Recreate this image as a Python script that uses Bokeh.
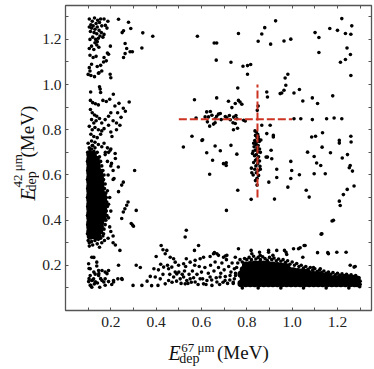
import math
from bokeh.plotting import figure
from bokeh.models import Range1d, FixedTicker, LinearAxis, Label, PrintfTickFormatter
from bokeh.layouts import row, column
from bokeh.embed import file_html
from bokeh.resources import INLINE

# ---------------- data ----------------
# dense core of the left cluster (E67 ~ 0.1-0.17, E42 ~ 0.3-0.7)
left_core = [
    (0.108, 0.69), (0.122, 0.688),
    (0.108, 0.67), (0.122, 0.672), (0.135, 0.668),
    (0.108, 0.65), (0.124, 0.652), (0.138, 0.648),
    (0.108, 0.63), (0.123, 0.628), (0.139, 0.632),
    (0.108, 0.61), (0.124, 0.612), (0.139, 0.608), (0.150, 0.612),
    (0.108, 0.59), (0.123, 0.592), (0.139, 0.588), (0.153, 0.590),
    (0.108, 0.57), (0.124, 0.568), (0.140, 0.572), (0.155, 0.570),
    (0.108, 0.55), (0.123, 0.552), (0.139, 0.548), (0.155, 0.550),
    (0.108, 0.53), (0.124, 0.528), (0.140, 0.532), (0.156, 0.530),
    (0.108, 0.51), (0.123, 0.512), (0.139, 0.508), (0.155, 0.510), (0.166, 0.512),
    (0.108, 0.49), (0.124, 0.488), (0.140, 0.492), (0.155, 0.490), (0.167, 0.488),
    (0.108, 0.47), (0.123, 0.472), (0.139, 0.468), (0.156, 0.470), (0.168, 0.472),
    (0.108, 0.45), (0.124, 0.448), (0.140, 0.452), (0.155, 0.450), (0.167, 0.448),
    (0.108, 0.43), (0.123, 0.432), (0.139, 0.428), (0.156, 0.430), (0.166, 0.432),
    (0.108, 0.41), (0.124, 0.408), (0.140, 0.412), (0.155, 0.410), (0.165, 0.408),
    (0.108, 0.39), (0.123, 0.392), (0.139, 0.388), (0.154, 0.390),
    (0.108, 0.37), (0.124, 0.368), (0.140, 0.372), (0.153, 0.370),
    (0.108, 0.35), (0.123, 0.352), (0.139, 0.348), (0.150, 0.352),
    (0.110, 0.33), (0.126, 0.332), (0.142, 0.328),
]

# dense core of the bottom-right cluster (E67 ~ 0.76-1.30, E42 ~ 0.1-0.22)
bottom_core = [
    (0.775, 0.12), (0.795, 0.12), (0.815, 0.12), (0.835, 0.12), (0.855, 0.12), (0.875, 0.12),
    (0.895, 0.12), (0.915, 0.12), (0.935, 0.12), (0.955, 0.12), (0.975, 0.12), (0.995, 0.12),
    (1.015, 0.12), (1.035, 0.12), (1.055, 0.12), (1.075, 0.12), (1.095, 0.12), (1.115, 0.12),
    (1.135, 0.12), (1.155, 0.12), (1.175, 0.12), (1.195, 0.12), (1.215, 0.12), (1.235, 0.12),
    (1.255, 0.12), (1.275, 0.12), (1.288, 0.12),
    (0.785, 0.14), (0.805, 0.14), (0.825, 0.14), (0.845, 0.14), (0.865, 0.14), (0.885, 0.14),
    (0.905, 0.14), (0.925, 0.14), (0.945, 0.14), (0.965, 0.14), (0.985, 0.14), (1.005, 0.14),
    (1.025, 0.14), (1.045, 0.14), (1.065, 0.14), (1.085, 0.14), (1.105, 0.14), (1.125, 0.14),
    (1.145, 0.14), (1.165, 0.14), (1.185, 0.14), (1.205, 0.14), (1.225, 0.14), (1.245, 0.14),
    (1.265, 0.14), (1.285, 0.138),
    (0.775, 0.16), (0.795, 0.16), (0.815, 0.16), (0.835, 0.16), (0.855, 0.16), (0.875, 0.16),
    (0.895, 0.16), (0.915, 0.16), (0.935, 0.16), (0.955, 0.16), (0.975, 0.16), (0.995, 0.16),
    (1.015, 0.16), (1.035, 0.16), (1.055, 0.16), (1.075, 0.16), (1.095, 0.158), (1.115, 0.155),
    (1.135, 0.152), (1.155, 0.150),
    (0.785, 0.18), (0.805, 0.18), (0.825, 0.18), (0.845, 0.18), (0.865, 0.18), (0.885, 0.18),
    (0.905, 0.18), (0.925, 0.18), (0.945, 0.18), (0.965, 0.18), (0.985, 0.178), (1.005, 0.175),
    (1.025, 0.172), (1.045, 0.170), (1.065, 0.168),
    (0.795, 0.200), (0.815, 0.203), (0.835, 0.205), (0.855, 0.205), (0.875, 0.205), (0.895, 0.203),
    (0.915, 0.200), (0.935, 0.198), (0.955, 0.195), (0.975, 0.192),
]

# sparse events, upper part of the left column
upper_left = [
    (0.105, 1.29), (0.118, 1.28), (0.128, 1.295), (0.142, 1.285), (0.155, 1.29), (0.170, 1.29),
    (0.187, 1.28), (0.112, 1.265), (0.135, 1.27), (0.150, 1.275), (0.105, 1.255), (0.115, 1.25),
    (0.122, 1.26), (0.130, 1.245), (0.140, 1.255), (0.160, 1.26), (0.176, 1.262), (0.183, 1.25),
    (0.110, 1.235), (0.126, 1.23), (0.138, 1.225), (0.148, 1.24), (0.158, 1.23), (0.170, 1.222),
    (0.108, 1.20), (0.120, 1.21), (0.133, 1.20), (0.140, 1.19), (0.145, 1.205), (0.152, 1.215),
    (0.165, 1.21), (0.130, 1.185), (0.138, 1.175), (0.115, 1.17), (0.105, 1.16), (0.125, 1.155),
    (0.147, 1.165), (0.185, 1.14), (0.198, 1.17), (0.108, 1.13), (0.122, 1.12), (0.135, 1.125),
    (0.170, 1.12), (0.180, 1.105), (0.115, 1.09), (0.140, 1.08), (0.155, 1.085), (0.108, 1.06),
    (0.100, 1.045), (0.112, 1.04), (0.128, 1.035), (0.145, 1.05), (0.160, 1.06), (0.200, 1.03),
    (0.105, 1.075), (0.234, 1.289), (0.278, 1.276), (0.288, 1.248), (0.256, 1.238), (0.250, 1.23),
    (0.341, 1.229), (0.385, 1.214), (0.337, 1.162), (0.295, 1.145), (0.263, 1.182), (0.270, 1.16),
    (0.263, 1.137), (0.256, 1.12), (0.285, 1.145), (0.190, 1.134), (0.168, 1.10), (0.197, 1.046),
    (0.148, 1.052),
    (0.111, 0.967), (0.150, 0.99), (0.153, 0.98), (0.155, 0.965), (0.211, 0.957), (0.281, 0.923),
    (0.110, 0.93), (0.120, 0.92), (0.132, 0.915), (0.145, 0.91), (0.165, 0.93), (0.180, 0.925),
    (0.195, 0.935), (0.218, 0.905), (0.236, 0.917), (0.255, 0.895), (0.264, 0.882), (0.110, 0.89),
    (0.118, 0.875), (0.128, 0.865), (0.138, 0.86), (0.150, 0.85), (0.115, 0.845), (0.125, 0.83),
    (0.135, 0.84), (0.160, 0.83), (0.175, 0.845), (0.190, 0.86), (0.200, 0.875), (0.210, 0.84),
    (0.225, 0.83), (0.230, 0.875), (0.245, 0.855), (0.105, 0.815), (0.118, 0.80), (0.130, 0.81),
    (0.145, 0.80), (0.160, 0.795), (0.170, 0.805), (0.190, 0.82), (0.200, 0.79), (0.112, 0.78),
    (0.125, 0.77), (0.140, 0.765), (0.155, 0.78), (0.205, 0.77), (0.225, 0.80), (0.240, 0.82),
    (0.115, 0.75), (0.130, 0.745), (0.120, 0.73), (0.145, 0.735), (0.160, 0.725), (0.170, 0.74),
    (0.185, 0.72), (0.200, 0.715),
]

# edge of the left cluster and its tail towards larger E67
left_edge = [
    (0.098, 0.70), (0.097, 0.66), (0.098, 0.62), (0.097, 0.58), (0.098, 0.54), (0.097, 0.50),
    (0.098, 0.46), (0.097, 0.42), (0.098, 0.38), (0.097, 0.34), (0.100, 0.31), (0.105, 0.30),
    (0.115, 0.305), (0.130, 0.31), (0.145, 0.315), (0.155, 0.32), (0.120, 0.29), (0.105, 0.285),
    (0.140, 0.295), (0.165, 0.33), (0.105, 0.72), (0.115, 0.715), (0.125, 0.705), (0.118, 0.73),
    (0.130, 0.72), (0.140, 0.70), (0.100, 0.74), (0.108, 0.71), (0.150, 0.68), (0.155, 0.66),
    (0.160, 0.64), (0.165, 0.62), (0.170, 0.60), (0.168, 0.58), (0.175, 0.56), (0.172, 0.54),
    (0.178, 0.52), (0.180, 0.50), (0.182, 0.48), (0.185, 0.46), (0.180, 0.44), (0.183, 0.42),
    (0.178, 0.40), (0.175, 0.38), (0.170, 0.36), (0.168, 0.34), (0.185, 0.53), (0.190, 0.47),
    (0.190, 0.41), (0.195, 0.50), (0.200, 0.44), (0.195, 0.37), (0.188, 0.60), (0.200, 0.64),
    (0.210, 0.58), (0.185, 0.66), (0.175, 0.69), (0.190, 0.70), (0.200, 0.35), (0.210, 0.33),
    (0.188, 0.32), (0.172, 0.31), (0.160, 0.30), (0.150, 0.28), (0.176, 0.70), (0.197, 0.709),
    (0.219, 0.695), (0.220, 0.673), (0.203, 0.651), (0.233, 0.635), (0.210, 0.62), (0.305, 0.62),
    (0.214, 0.584), (0.255, 0.568), (0.248, 0.555), (0.234, 0.526), (0.276, 0.48), (0.270, 0.466),
    (0.262, 0.45), (0.255, 0.436), (0.312, 0.443), (0.248, 0.407), (0.290, 0.385), (0.296, 0.378),
    (0.300, 0.373), (0.240, 0.266), (0.220, 0.29), (0.210, 0.30),
]

# lower part of the left column
lower_left = [
    (0.116, 0.236), (0.102, 0.207), (0.138, 0.214), (0.138, 0.197), (0.109, 0.185), (0.146, 0.177),
    (0.161, 0.177), (0.175, 0.17), (0.190, 0.177), (0.234, 0.20), (0.109, 0.155), (0.124, 0.14),
    (0.131, 0.161), (0.146, 0.155), (0.161, 0.133), (0.175, 0.14), (0.190, 0.128), (0.204, 0.115),
    (0.212, 0.133), (0.231, 0.14), (0.250, 0.137), (0.102, 0.128), (0.109, 0.112), (0.116, 0.103),
    (0.127, 0.117), (0.141, 0.122), (0.151, 0.103), (0.175, 0.112), (0.116, 0.133), (0.131, 0.126),
    (0.125, 0.235), (0.104, 0.186), (0.125, 0.17), (0.147, 0.163), (0.183, 0.163), (0.104, 0.141),
    (0.118, 0.134), (0.133, 0.126), (0.155, 0.141), (0.169, 0.126), (0.212, 0.126), (0.248, 0.141),
    (0.111, 0.112), (0.298, 0.111), (0.312, 0.20), (0.330, 0.19), (0.337, 0.111),
]

# band between the two clusters
bottom_mid = [
    (0.400, 0.239), (0.422, 0.288), (0.430, 0.269), (0.447, 0.266), (0.440, 0.251), (0.462, 0.236),
    (0.477, 0.229), (0.484, 0.214), (0.433, 0.192), (0.455, 0.185), (0.469, 0.192), (0.499, 0.20),
    (0.521, 0.207), (0.533, 0.229), (0.550, 0.214), (0.572, 0.222), (0.594, 0.229), (0.609, 0.236),
    (0.638, 0.239), (0.653, 0.251), (0.675, 0.244), (0.697, 0.236), (0.374, 0.151), (0.396, 0.148),
    (0.418, 0.14), (0.408, 0.111), (0.440, 0.118), (0.455, 0.133), (0.477, 0.148), (0.491, 0.162),
    (0.506, 0.14), (0.521, 0.148), (0.535, 0.133), (0.550, 0.14), (0.528, 0.118), (0.572, 0.126),
    (0.594, 0.14), (0.609, 0.118), (0.624, 0.133), (0.638, 0.148), (0.646, 0.111), (0.668, 0.126),
    (0.682, 0.148), (0.704, 0.133), (0.726, 0.155), (0.484, 0.17), (0.533, 0.355), (0.528, 0.325),
    (0.569, 0.266), (0.587, 0.288), (0.657, 0.257), (0.460, 0.16), (0.470, 0.125), (0.490, 0.13),
    (0.500, 0.17), (0.510, 0.12), (0.515, 0.16), (0.525, 0.175), (0.540, 0.12), (0.545, 0.16),
    (0.555, 0.125), (0.560, 0.175), (0.565, 0.145), (0.580, 0.16), (0.585, 0.115), (0.600, 0.17),
    (0.605, 0.14), (0.615, 0.19), (0.620, 0.115), (0.630, 0.165), (0.640, 0.20), (0.645, 0.135),
    (0.655, 0.175), (0.660, 0.215), (0.665, 0.145), (0.675, 0.19), (0.680, 0.115), (0.685, 0.165),
    (0.690, 0.21), (0.695, 0.125), (0.700, 0.18), (0.705, 0.15), (0.710, 0.225), (0.715, 0.12),
    (0.720, 0.195), (0.725, 0.135), (0.730, 0.17), (0.735, 0.21), (0.740, 0.125), (0.745, 0.185),
    (0.750, 0.155), (0.450, 0.20), (0.430, 0.16), (0.420, 0.205), (0.410, 0.18), (0.390, 0.185),
    (0.360, 0.13), (0.380, 0.11), (0.530, 0.195), (0.570, 0.20), (0.590, 0.195),
]

# ragged edge of the bottom-right cluster and events just above it
bottom_edge = [
    (0.740, 0.12), (0.745, 0.14), (0.750, 0.165), (0.755, 0.19), (0.760, 0.21), (0.770, 0.225),
    (0.780, 0.215), (0.790, 0.23), (0.800, 0.225), (0.810, 0.235), (0.820, 0.225), (0.830, 0.24),
    (0.840, 0.228), (0.850, 0.235), (0.860, 0.225), (0.870, 0.238), (0.880, 0.23), (0.890, 0.222),
    (0.900, 0.235), (0.910, 0.225), (0.920, 0.232), (0.930, 0.22), (0.940, 0.228), (0.950, 0.218),
    (0.960, 0.225), (0.970, 0.212), (0.980, 0.22), (0.990, 0.205), (1.000, 0.215), (1.010, 0.20),
    (1.020, 0.208), (1.030, 0.195), (1.040, 0.20), (1.050, 0.188), (1.060, 0.195), (1.070, 0.182),
    (1.080, 0.19), (1.090, 0.178), (1.100, 0.185), (1.110, 0.172), (1.120, 0.178), (1.130, 0.168),
    (1.140, 0.175), (1.150, 0.165), (1.160, 0.17), (1.170, 0.16), (1.180, 0.168), (1.190, 0.158),
    (1.200, 0.165), (1.210, 0.156), (1.220, 0.162), (1.230, 0.155), (1.240, 0.16), (1.250, 0.152),
    (1.260, 0.158), (1.270, 0.15), (1.280, 0.155), (1.295, 0.145), (1.300, 0.13), (1.300, 0.115),
    (1.298, 0.105), (0.780, 0.10), (0.850, 0.10), (0.950, 0.10), (1.050, 0.10), (1.150, 0.10),
    (1.250, 0.10), (0.763, 0.273), (0.822, 0.251), (0.859, 0.244), (0.896, 0.266), (0.915, 0.244),
    (0.966, 0.266), (0.976, 0.248), (1.035, 0.278), (1.053, 0.288), (1.047, 0.236), (1.160, 0.251),
    (1.278, 0.195), (0.668, 0.251), (0.712, 0.244), (0.705, 0.241), (0.749, 0.236), (1.124, 0.185),
    (1.094, 0.19), (1.256, 0.20), (1.112, 0.256), (1.157, 0.256), (1.197, 0.258), (1.238, 0.258),
    (1.273, 0.192), (1.131, 0.34), (1.182, 0.399), (1.057, 0.288), (1.006, 0.273), (1.028, 0.273),
    (0.973, 0.258), (0.932, 0.266), (0.896, 0.258), (0.856, 0.258), (0.819, 0.266),
]

# sparse events in the upper-right region
upper_right = [
    (0.582, 1.214), (0.656, 1.184), (0.667, 1.184), (0.665, 1.108), (0.763, 1.226), (0.730, 1.099),
    (0.783, 1.081), (0.803, 1.084), (0.817, 1.089), (0.803, 1.046), (0.850, 1.192), (0.866, 1.224),
    (0.879, 1.252), (0.905, 1.179), (0.927, 1.282), (0.964, 1.193), (0.994, 1.201), (0.969, 1.029),
    (0.981, 1.046), (0.972, 0.997), (0.964, 0.975), (0.954, 0.963), (0.947, 0.96), (0.888, 0.967),
    (0.891, 0.945), (1.008, 0.963), (1.032, 0.978), (1.047, 0.927), (1.089, 0.941), (1.112, 0.916),
    (1.179, 0.95), (1.101, 1.23), (1.118, 1.208), (1.118, 1.142), (1.166, 1.248), (1.200, 1.24),
    (1.219, 1.292), (1.235, 1.226), (1.259, 1.223), (1.263, 1.26), (1.242, 1.162), (1.213, 1.099),
    (1.235, 1.111), (1.257, 1.133), (1.259, 1.04), (0.569, 0.933), (0.667, 0.941), (0.719, 0.926),
    (0.734, 0.898), (0.749, 0.916), (0.763, 0.93), (0.770, 0.923), (0.778, 0.913), (0.760, 0.985),
]

# events around the crosshair and in the middle of the plane
middle = [
    (0.576, 0.852), (0.623, 0.879), (0.639, 0.881), (0.616, 0.857), (0.631, 0.857), (0.646, 0.864),
    (0.660, 0.849), (0.667, 0.86), (0.675, 0.869), (0.683, 0.872), (0.626, 0.835), (0.636, 0.816),
    (0.653, 0.825), (0.660, 0.831), (0.705, 0.859), (0.712, 0.853), (0.723, 0.863), (0.727, 0.844),
    (0.742, 0.856), (0.752, 0.863), (0.756, 0.849), (0.739, 0.831), (0.749, 0.828), (0.759, 0.807),
    (0.741, 0.80), (0.786, 0.842), (0.793, 0.839), (0.687, 0.845), (0.602, 0.753), (0.660, 0.728),
    (0.730, 0.731), (0.623, 0.698), (0.683, 0.707), (0.756, 0.692), (0.866, 0.82), (0.903, 0.82),
    (0.917, 0.775), (0.917, 0.768), (0.888, 0.783), (1.008, 0.849), (1.038, 0.849), (1.089, 0.845),
    (1.152, 0.849), (1.185, 0.852), (1.219, 0.849), (1.086, 0.768), (1.103, 0.771), (1.134, 0.787),
    (1.132, 0.723), (1.169, 0.698), (1.208, 0.753), (1.208, 0.741), (1.259, 0.771), (1.260, 0.746),
    (1.244, 0.69), (1.221, 0.675), (1.068, 0.701), (1.097, 0.682), (0.649, 0.665), (0.636, 0.603),
    (0.697, 0.65), (0.709, 0.654), (0.709, 0.642), (0.760, 0.532), (0.710, 0.443), (0.819, 0.492),
    (0.885, 0.679), (0.891, 0.679), (0.907, 0.709), (0.910, 0.672), (0.897, 0.568), (0.932, 0.625),
    (0.932, 0.589), (0.922, 0.493), (0.981, 0.546), (0.994, 0.66), (0.998, 0.62), (0.994, 0.584),
    (1.032, 0.601), (1.062, 0.532), (1.075, 0.502), (1.108, 0.653), (1.126, 0.642), (1.097, 0.605),
    (1.146, 0.605), (1.256, 0.642), (1.266, 0.617), (1.252, 0.632), (1.273, 0.551), (1.243, 0.536),
    (1.226, 0.513), (1.208, 0.484), (1.212, 0.465), (1.176, 0.396), (1.128, 0.338), (0.520, 0.724),
    (0.558, 0.771), (0.605, 0.756), (0.846, 0.886), (0.850, 0.905),
    (0.842, 0.79), (0.848, 0.78), (0.838, 0.775), (0.845, 0.765), (0.852, 0.76), (0.835, 0.752),
    (0.843, 0.745), (0.855, 0.748), (0.840, 0.735), (0.850, 0.73), (0.832, 0.725), (0.846, 0.72),
    (0.856, 0.715), (0.838, 0.71), (0.828, 0.705), (0.849, 0.702), (0.842, 0.69), (0.834, 0.685),
    (0.852, 0.68), (0.845, 0.672), (0.838, 0.665), (0.856, 0.662), (0.830, 0.655), (0.848, 0.65),
    (0.840, 0.64), (0.858, 0.638), (0.835, 0.625), (0.850, 0.62), (0.842, 0.61), (0.828, 0.60),
    (0.852, 0.598), (0.845, 0.585), (0.838, 0.575), (0.820, 0.63), (0.860, 0.70), (0.830, 0.74),
    (0.862, 0.755), (0.825, 0.695), (0.850, 0.77), (0.836, 0.795), (0.860, 0.625), (0.822, 0.61),
    (0.845, 0.555),
]

# red dashed crosshair
cross_x = 0.847
cross_y = 0.847
cross_span = [0.5, 1.0]

major_ticks = [0.2, 0.4, 0.6, 0.8, 1.0, 1.2]
minor_ticks = [0.1, 0.3, 0.5, 0.7, 0.9, 1.1, 1.3]
all_ticks = [0.1, 0.2, 0.3, 0.4, 0.5, 0.6, 0.7, 0.8, 0.9, 1.0, 1.1, 1.2, 1.3]
axis_range = [0.0, 1.35]

x_title = ["E", "67 μm", "dep", "(MeV)"]
y_title = ["E", "42 μm", "dep", "(MeV)"]

# ---------------- main figure ----------------
FONT = "Liberation Serif"
GREY = "#555555"
LEFT, RIGHT = 23, 5

p = figure(frame_width=306, frame_height=305,
           x_range=Range1d(*axis_range), y_range=Range1d(*axis_range),
           output_backend="svg", toolbar_location=None,
           min_border_left=LEFT, min_border_right=RIGHT, min_border_top=5, min_border_bottom=24)
p.grid.visible = False
p.outline_line_color = GREY
p.outline_line_width = 1.3

def style_axis(ax, labels=True):
    if labels:
        ax.ticker = FixedTicker(ticks=major_ticks, minor_ticks=minor_ticks)
        ax.formatter = PrintfTickFormatter(format="%.1f")
        ax.major_label_text_font = FONT
        ax.major_label_text_font_size = "15.5px"
        ax.major_label_text_color = "#222222"
    else:
        ax.ticker = FixedTicker(ticks=[], minor_ticks=all_ticks)
        ax.major_label_standoff = 0
        ax.axis_label_standoff = 0
    ax.major_tick_in = 3
    ax.major_tick_out = 0
    ax.minor_tick_in = 3
    ax.minor_tick_out = 0
    ax.major_tick_line_color = GREY
    ax.minor_tick_line_color = GREY
    ax.axis_line_color = None

style_axis(p.xaxis[0])
style_axis(p.yaxis[0])
p.xaxis[0].major_label_standoff = 6
p.yaxis[0].major_label_standoff = 4

top = LinearAxis()
right = LinearAxis()
style_axis(top, labels=False)
style_axis(right, labels=False)
p.add_layout(top, "above")
p.add_layout(right, "right")

def split(pts):
    return [a for a, b in pts], [b for a, b in pts]

for grp in (upper_left, left_edge, lower_left, bottom_mid, bottom_edge, upper_right, middle):
    xs, ys = split(grp)
    p.scatter(xs, ys, size=3.6, color="black", line_width=0)
for grp in (left_core, bottom_core):
    xs, ys = split(grp)
    p.scatter(xs, ys, size=7.5, color="black", line_width=0)

RED = "#cc3322"
p.line(cross_span, [cross_y, cross_y], line_color=RED, line_width=2, line_dash="8 3")
p.line([cross_x, cross_x], cross_span, line_color=RED, line_width=2, line_dash="8 3")

# ---------------- axis-title strips ----------------
def lab(f, x, y, text, size, italic=False, angle=0.0):
    f.add_layout(Label(x=x, y=y, text=text, text_font=FONT, text_font_size=size,
                       text_font_style="italic" if italic else "normal",
                       text_color="#111111", angle=angle,
                       text_align="left", text_baseline="alphabetic"))

# x title: strip under the plot, x in data units (its frame is aligned with the plot's)
XL_H = 35
xl = figure(width=LEFT + 306 + RIGHT, height=XL_H,
            x_range=Range1d(*axis_range), y_range=Range1d(0, XL_H),
            output_backend="svg", toolbar_location=None,
            x_axis_type=None, y_axis_type=None,
            min_border_left=LEFT, min_border_right=RIGHT, min_border_top=0, min_border_bottom=0)
xl.grid.visible = False
xl.outline_line_color = None
lab(xl, 0.459, 17, x_title[0], "20px", italic=True)
lab(xl, 0.516, 22.5, x_title[1], "13px")
lab(xl, 0.507, 11, x_title[2], "14px")
lab(xl, 0.675, 17, x_title[3], "19px")

# y title: strip left of the plot, pixel units
YL_W, YL_H = 39, 369
yl = figure(width=YL_W, height=YL_H, x_range=Range1d(0, YL_W), y_range=Range1d(0, YL_H),
            output_backend="svg", toolbar_location=None,
            x_axis_type=None, y_axis_type=None, min_border=0)
yl.grid.visible = False
yl.outline_line_color = None
A = math.pi / 2
lab(yl, 27, 169, y_title[0], "20px", italic=True, angle=A)
lab(yl, 17, 182, y_title[1], "13px", angle=A)
lab(yl, 30.5, 178, y_title[2], "14px", angle=A)
lab(yl, 27, 212, y_title[3], "19px", angle=A)

layout = row(yl, column(p, xl, spacing=0), spacing=0)
open("out.html", "w").write(file_html(layout, INLINE))
